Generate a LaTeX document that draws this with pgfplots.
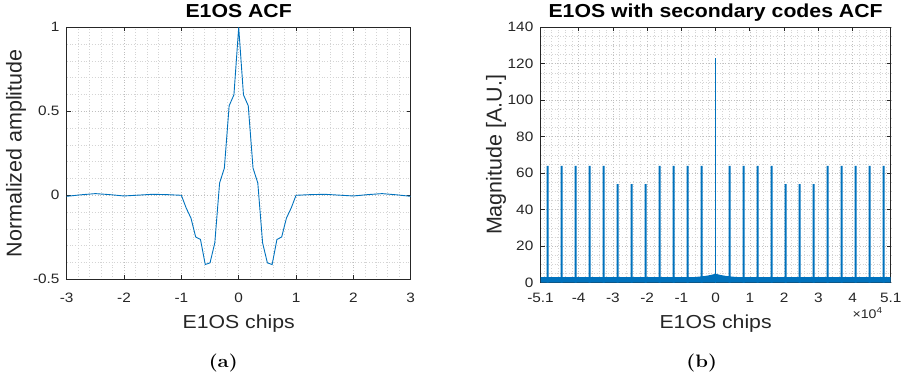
\documentclass[border=0pt]{standalone}
\usepackage{fontspec}
\usepackage{pgfplots}
\pgfplotsset{compat=1.18}
\newfontfamily\sans[FakeStretch=1.13]{Liberation Sans}
\newfontfamily\vsans{Liberation Sans}
\newfontfamily\capfont[FakeStretch=1.13]{Latin Modern Roman}
\definecolor{mblue}{rgb}{0,0.447,0.741}
\pgfplotsset{
  every axis title shift=0pt,
  mstyle/.style={
    scale only axis,
    axis line style={black!85, line width=0.7pt},
    tick style={black!85, line width=0.7pt},
    major tick length=4pt,
    minor tick length=0pt,
    tick align=inside,
    grid=both,
    major grid style={black!25, line width=0.6pt, dash pattern=on 0.8pt off 2pt},
    minor grid style={black!17, line width=0.6pt, dash pattern=on 0.8pt off 2pt},
    ticklabel style={font=\sans\fontsize{13.6}{15}\selectfont, text=black!85},
    xlabel style={font=\sans\fontsize{18.8}{20}\selectfont, text=black!85},
    ylabel style={font=\vsans\fontsize{21.5}{23}\selectfont, text=black!85},
    title style={font=\sans\bfseries\fontsize{18.8}{20}\selectfont},
    /pgf/number format/assume math mode=true,
    xticklabel style={anchor=base, inner sep=0pt},
    yticklabel style={anchor=east, inner sep=0pt},
  }
}
\begin{document}
\begin{tikzpicture}
\path[use as bounding box] (0pt,0pt) rectangle (901pt,380pt);

\begin{axis}[mstyle,
  at={(66.7pt,100.7pt)}, anchor=south west,
  width=344pt, height=252pt,
  xmin=-3, xmax=3, ymin=-0.5, ymax=1,
  xtick={-3,-2,-1,0,1,2,3}, xticklabels={-3,-2,-1,0,1,2,3},
  ytick={-0.5,0,0.5,1}, yticklabels={-0.5,0,0.5,1},
  minor x tick num=4, minor y tick num=4,
  xticklabel style={yshift=-23pt},
  yticklabel style={xshift=-7pt},
  title={E1OS ACF},
  title style={at={([yshift=10pt]axis description cs:0.5,1)}, anchor=base},
  xlabel={E1OS chips},
  xlabel style={at={([yshift=-49pt]axis description cs:0.5,0)}, anchor=base},
  ylabel={Normalized amplitude},
  ylabel style={at={([xshift=-45pt]axis description cs:0,0.5)}, anchor=base},
]
\addplot[mblue, line width=0.9pt] coordinates {
(-3,-0.006) (-2.75,0.003) (-2.5,0.01) (-2.25,0.004) (-2,-0.004) (-1.75,0.001)
(-1.5,0.006) (-1.25,0.004) (-1,0) (-0.9167,-0.075) (-0.8333,-0.135) (-0.75,-0.248)
(-0.6667,-0.263) (-0.5833,-0.412) (-0.5,-0.402) (-0.4167,-0.283) (-0.3333,0.073)
(-0.25,0.162) (-0.1667,0.533) (-0.0833,0.598) (0,1)
(0.0833,0.598) (0.1667,0.533) (0.25,0.162) (0.3333,0.073) (0.4167,-0.283)
(0.5,-0.402) (0.5833,-0.412) (0.6667,-0.263) (0.75,-0.248) (0.8333,-0.135)
(0.9167,-0.075) (1,0) (1.25,0.004) (1.5,0.006) (1.75,0.001) (2,-0.004)
(2.25,0.004) (2.5,0.01) (2.75,0.003) (3,-0.006)
};
\end{axis}

\begin{axis}[mstyle, name=B,
  at={(540.5pt,97.5pt)}, anchor=south west,
  width=350.2pt, height=255.2pt,
  xmin=-51150, xmax=51150, ymin=0, ymax=140,
  scaled x ticks=false,
  xtick={-51150,-40000,-30000,-20000,-10000,0,10000,20000,30000,40000,51150},
  xticklabels={-5.1,-4,-3,-2,-1,0,1,2,3,4,5.1},
  minor xtick={-50000,-48000,...,50000},
  ytick={0,20,40,60,80,100,120,140},
  yticklabels={0,20,40,60,80,100,120,140},
  minor y tick num=3,
  xticklabel style={yshift=-20pt},
  yticklabel style={xshift=-7pt},
  title={E1OS with secondary codes ACF},
  title style={at={([yshift=10pt]axis description cs:0.5,1)}, anchor=base},
  xlabel={E1OS chips},
  xlabel style={at={([yshift=-46pt]axis description cs:0.5,0)}, anchor=base},
  ylabel={Magnitude [A.U.]},
  ylabel style={at={([xshift=-39pt]axis description cs:0,0.5)}, anchor=base},
]
\addplot[fill=mblue, draw=none] coordinates {
(-51150,3.0) (-6000,3.0) (-3000,3.6) (-1500,4.1) (0,4.8) (1500,4.1) (3000,3.6) (6000,3.0) (51150,3.0)
} \closedcycle;
\addplot[ybar, bar width=2pt, bar shift=0pt, fill=mblue, draw=none] coordinates {
(-49104,64) (-45012,64) (-40920,64) (-36828,64) (-32736,64)
(-28644,54) (-24552,54) (-20460,54)
(-16368,64) (-12276,64) (-8184,64) (-4092,64)
(4092,64) (8184,64) (12276,64) (16368,64)
(20460,54) (24552,54) (28644,54)
(32736,64) (36828,64) (40920,64) (45012,64) (49104,64)
};
\addplot[ybar, bar width=1.1pt, bar shift=0pt, fill=mblue, draw=none] coordinates {(0,123)};
\end{axis}
\node[anchor=base east, inner sep=0pt, text=black!85, font=\sans\fontsize{12.5}{13}\selectfont]
  at ([xshift=-8pt,yshift=-35.8pt]B.south east) {×10\textsuperscript{4}};

\node[anchor=base, inner sep=0pt, font=\capfont\bfseries\fontsize{18}{20}\selectfont] at (223.3pt,12.8pt) {(a)};
\node[anchor=base, inner sep=0pt, font=\capfont\bfseries\fontsize{18}{20}\selectfont] at (701.7pt,12.8pt) {(b)};
\end{tikzpicture}
\end{document}
